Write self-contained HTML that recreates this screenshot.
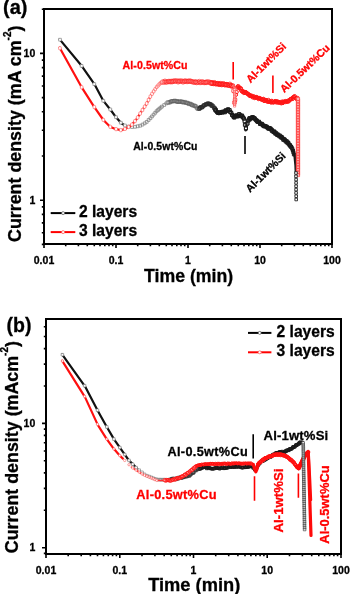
<!DOCTYPE html>
<html><head><meta charset="utf-8"><style>
html,body{margin:0;padding:0;background:#fff;}
body{width:350px;height:594px;position:relative;overflow:hidden;font-family:"Liberation Sans",sans-serif;}
</style></head><body>
<svg width="350" height="594" viewBox="0 0 350 594" style="position:absolute;left:0;top:0;filter:blur(0.35px)">
<style>text{stroke:#000;stroke-width:0.3px}text[fill="#ff0000"]{stroke:#ff0000}</style>
<g font-family="Liberation Sans, sans-serif" font-weight="bold">
<rect x="44" y="9" width="288" height="235" fill="none" stroke="#000" stroke-width="2"/>
<path d="M44 244v4M65.7 244v2.2M78.4 244v2.2M87.3 244v2.2M94.3 244v2.2M100 244v2.2M104.8 244v2.2M109 244v2.2M112.7 244v2.2M116 244v4M137.7 244v2.2M150.4 244v2.2M159.3 244v2.2M166.3 244v2.2M172 244v2.2M176.8 244v2.2M181 244v2.2M184.7 244v2.2M188 244v4M209.7 244v2.2M222.4 244v2.2M231.3 244v2.2M238.3 244v2.2M244 244v2.2M248.8 244v2.2M253 244v2.2M256.7 244v2.2M260 244v4M281.7 244v2.2M294.4 244v2.2M303.3 244v2.2M310.3 244v2.2M316 244v2.2M320.8 244v2.2M325 244v2.2M328.7 244v2.2M332 244v4M44 244.4h-2.2M44 232.8h-2.2M44 222.9h-2.2M44 214.4h-2.2M44 206.9h-2.2M44 200.2h-4M44 156h-2.2M44 130.2h-2.2M44 111.8h-2.2M44 97.6h-2.2M44 86h-2.2M44 76.1h-2.2M44 67.6h-2.2M44 60.1h-2.2M44 53.4h-4M44 9.2h-2.2" stroke="#000" stroke-width="1.6" fill="none"/>
<text x="44" y="263.8" text-anchor="middle" font-size="10.5">0.01</text>
<text x="116" y="263.8" text-anchor="middle" font-size="10.5">0.1</text>
<text x="188" y="263.8" text-anchor="middle" font-size="10.5">1</text>
<text x="260" y="263.8" text-anchor="middle" font-size="10.5">10</text>
<text x="332" y="263.8" text-anchor="middle" font-size="10.5">100</text>
<text x="35.3" y="56.9" text-anchor="end" font-size="10.5">10</text>
<text x="35.3" y="203.5" text-anchor="end" font-size="10.5">1</text>
<path d="M59.7 39.4 L82 66.3 L94.9 84.9 L103.4 100.9 L110.3 109.5 L116.1 117.3 L121.3 123.3 L125.6 125.9" fill="none" stroke="#111" stroke-width="2.2" stroke-linejoin="round" stroke-linecap="round" />
<path d="M125.6 125.9 L130.7 127.1 L135.9 126.7 L141 125.5 L146.2 122.4 L151.3 117.3 L156.5 111.3 L161.6 106.8 L167.2 102.8 L175.3 101 L185.4 102.5" fill="none" stroke="#999" stroke-width="1.2" stroke-linejoin="round" stroke-linecap="round" />
<path d="M58.6 38.3h2.8v2.8h-2.8zM80.2 64.5h2.8v2.8h-2.8zM92.9 82.7h2.8v2.8h-2.8zM101.9 99.4h2.8v2.8h-2.8zM108.9 108.1h2.8v2.8h-2.8zM114.6 115.8h2.8v2.8h-2.8zM119.4 121.3h2.8v2.8h-2.8zM123.6 124.1h2.8v2.8h-2.8z" fill="#fff" stroke="#777" stroke-width="0.6"/>
<path d="M127.3 125.2h2.8v2.8h-2.8zM130.6 125.6h2.8v2.8h-2.8zM133.6 125.4h2.8v2.8h-2.8zM136.3 124.9h2.8v2.8h-2.8zM138.8 124.3h2.8v2.8h-2.8zM141.1 123.2h2.8v2.8h-2.8zM143.3 121.9h2.8v2.8h-2.8zM145.3 120.5h2.8v2.8h-2.8zM147.2 118.6h2.8v2.8h-2.8zM149 116.8h2.8v2.8h-2.8zM150.6 115h2.8v2.8h-2.8zM152.2 113.2h2.8v2.8h-2.8zM153.8 111.4h2.8v2.8h-2.8zM155.2 109.8h2.8v2.8h-2.8zM156.6 108.6h2.8v2.8h-2.8zM157.9 107.4h2.8v2.8h-2.8zM159.2 106.3h2.8v2.8h-2.8zM160.5 105.2h2.8v2.8h-2.8zM162.8 103.6h2.8v2.8h-2.8zM164.9 102h2.8v2.8h-2.8z" fill="#fff" stroke="#7a7a7a" stroke-width="0.7"/>
<path d="M166.2 100.8h3.2v3.2h-3.2zM167.1 101h3.2v3.2h-3.2zM168.3 100.6h3.2v3.2h-3.2zM169.4 99.9h3.2v3.2h-3.2zM170.4 99.7h3.2v3.2h-3.2zM171.2 99.5h3.2v3.2h-3.2zM172.6 99.6h3.2v3.2h-3.2zM173.2 99.1h3.2v3.2h-3.2zM174.7 99.6h3.2v3.2h-3.2zM175.3 99.7h3.2v3.2h-3.2zM176.1 100.3h3.2v3.2h-3.2zM177.3 100.3h3.2v3.2h-3.2zM178.2 99.7h3.2v3.2h-3.2zM179.6 100.1h3.2v3.2h-3.2zM180.4 100.1h3.2v3.2h-3.2zM181.3 100.7h3.2v3.2h-3.2zM182.1 100.7h3.2v3.2h-3.2zM183.2 100.4h3.2v3.2h-3.2zM184.4 101.3h3.2v3.2h-3.2zM185.5 101.2h3.2v3.2h-3.2zM186.3 101.7h3.2v3.2h-3.2zM187.5 102.4h3.2v3.2h-3.2zM188.4 102.1h3.2v3.2h-3.2zM189.6 102.7h3.2v3.2h-3.2zM190.3 103.3h3.2v3.2h-3.2zM191.2 103.8h3.2v3.2h-3.2zM192.6 104h3.2v3.2h-3.2zM193.4 104.4h3.2v3.2h-3.2zM194.5 105h3.2v3.2h-3.2zM195.4 106.4h3.2v3.2h-3.2zM196.3 107.3h3.2v3.2h-3.2zM197.5 107h3.2v3.2h-3.2zM198.4 106.4h3.2v3.2h-3.2z" fill="#fff" stroke="#5a5a5a" stroke-width="0.6"/>
<path d="M202.1 106.9 L208.6 103.5 L212.4 105.6" fill="none" stroke="#333" stroke-width="2.0" stroke-linejoin="round" stroke-linecap="round" />
<path d="M197.8 107.3h3v3h-3zM198.4 106.5h3v3h-3zM199.2 105.6h3v3h-3zM200.2 105.9h3v3h-3zM200.6 105.7h3v3h-3zM201.6 104.8h3v3h-3zM202.3 103.9h3v3h-3zM202.9 103.7h3v3h-3zM204.1 103.1h3v3h-3zM204.5 102.8h3v3h-3zM205.7 102.7h3v3h-3zM206.3 101.9h3v3h-3zM207.3 102.1h3v3h-3zM208.1 102.8h3v3h-3zM208.6 102.6h3v3h-3zM209.7 103.2h3v3h-3zM210.1 104.3h3v3h-3zM210.9 104h3v3h-3zM211.9 105.1h3v3h-3zM212.6 106.6h3v3h-3zM213.5 106.9h3v3h-3zM214.3 108.4h3v3h-3z" fill="#fff" stroke="#2a2a2a" stroke-width="0.9"/>
<path d="M216.3 110.7 L218.8 113.8 L224 112 L229.1 109.4 L231.7 114.6 L234.3 117.1 L239.4 114.6 L243.3 117.1 L245 124 L245.8 130 L247 124 L248.4 119.7 L252.3 117.1 L260 123.6 L268 127.5 L276 133.5 L285 140.5 L290 145.5 L293 150" fill="none" stroke="#222" stroke-width="3.0" stroke-linejoin="round" stroke-linecap="round" />
<path d="M213.6 108.3h3v3h-3zM214.2 108.3h3v3h-3zM214.4 109.4h3v3h-3zM215.5 110.5h3v3h-3zM216.1 111.2h3v3h-3zM216.4 111.1h3v3h-3zM217.2 111.3h3v3h-3zM217.4 111.4h3v3h-3zM218.1 111.4h3v3h-3zM218.6 111.5h3v3h-3zM219.3 110.6h3v3h-3zM220 110.6h3v3h-3zM220.9 110.3h3v3h-3zM221.1 111.1h3v3h-3zM221.8 110.3h3v3h-3zM222.3 110.3h3v3h-3zM223.4 110.8h3v3h-3zM223.7 109.8h3v3h-3zM224.1 108.8h3v3h-3zM224.8 109h3v3h-3zM225.3 109.6h3v3h-3zM226.4 107.8h3v3h-3zM226.5 108.4h3v3h-3zM227 108.1h3v3h-3zM228.2 108.6h3v3h-3zM228.6 110.4h3v3h-3zM229 110.5h3v3h-3zM229.9 111.5h3v3h-3zM230.5 113.3h3v3h-3zM230.7 113.5h3v3h-3zM231.8 114.9h3v3h-3zM232.3 115.6h3v3h-3zM232.8 116.1h3v3h-3zM233.3 114.9h3v3h-3zM233.6 114.8h3v3h-3zM234.4 113.9h3v3h-3zM235.2 114h3v3h-3zM235.7 115h3v3h-3zM236.6 114.7h3v3h-3zM236.8 114.4h3v3h-3zM237.3 112.8h3v3h-3zM237.9 112.7h3v3h-3zM238.9 113.8h3v3h-3zM239.3 114.6h3v3h-3zM240.1 114.7h3v3h-3zM240.6 114h3v3h-3zM241.3 115.9h3v3h-3zM241.7 116h3v3h-3zM242.5 117.1h3v3h-3zM243.1 119.8h3v3h-3zM243.4 123.3h3v3h-3zM244.4 126.8h3v3h-3zM244.5 126.9h3v3h-3zM245.1 122.8h3v3h-3zM246.1 122h3v3h-3zM246.7 118.8h3v3h-3zM247.2 118.9h3v3h-3zM247.7 117.4h3v3h-3zM248 116.6h3v3h-3zM249 117.7h3v3h-3zM249.8 116.5h3v3h-3zM250.3 115.9h3v3h-3zM250.5 116.3h3v3h-3zM251.2 115.6h3v3h-3zM252 116.1h3v3h-3zM252.5 116.6h3v3h-3zM253.3 116.9h3v3h-3zM253.7 117.8h3v3h-3zM254.5 118.7h3v3h-3zM255.2 118.9h3v3h-3zM255.5 119.6h3v3h-3zM255.8 120.1h3v3h-3zM256.5 120.5h3v3h-3zM257.5 120.2h3v3h-3zM257.9 121h3v3h-3zM258.5 122.5h3v3h-3zM259.1 122.1h3v3h-3zM259.9 122.8h3v3h-3zM260.3 122.3h3v3h-3zM260.8 122.8h3v3h-3zM261.5 124.1h3v3h-3zM262.3 124h3v3h-3zM262.7 124.9h3v3h-3zM263.3 124.6h3v3h-3zM264 124.8h3v3h-3zM264.5 124.9h3v3h-3zM265.4 125.3h3v3h-3zM265.9 126h3v3h-3zM266.2 126.7h3v3h-3zM267.2 126.4h3v3h-3zM267.3 127.4h3v3h-3zM268.1 126.5h3v3h-3zM268.5 126.9h3v3h-3zM269.4 127.3h3v3h-3zM270.1 129.1h3v3h-3zM270.6 128.4h3v3h-3zM270.9 129.7h3v3h-3zM272 130.6h3v3h-3zM272.6 129.8h3v3h-3zM272.9 130.6h3v3h-3zM273.7 132.1h3v3h-3zM274.1 131.1h3v3h-3zM274.6 132.2h3v3h-3zM275.2 132.1h3v3h-3zM275.6 133.5h3v3h-3zM276.5 133.7h3v3h-3zM277 133.2h3v3h-3zM277.7 134.7h3v3h-3zM278.6 134.2h3v3h-3zM279.2 135.9h3v3h-3zM279.4 135.2h3v3h-3zM280.3 135.5h3v3h-3zM280.5 136.4h3v3h-3zM281.5 137.1h3v3h-3zM281.8 138.3h3v3h-3zM282.8 137.6h3v3h-3zM283.2 138.8h3v3h-3zM283.4 138.5h3v3h-3zM284.3 140.1h3v3h-3zM285.2 139.6h3v3h-3zM285.7 141.2h3v3h-3zM286.3 140.9h3v3h-3zM286.9 141.4h3v3h-3zM287.2 142.7h3v3h-3zM288.2 143.5h3v3h-3zM288.3 143.6h3v3h-3zM288.9 144.9h3v3h-3zM289.5 145.1h3v3h-3zM290.1 145.9h3v3h-3zM290.8 147.3h3v3h-3zM291.4 149h3v3h-3zM291.9 150.8h3v3h-3zM292.4 152.9h3v3h-3z" fill="#fff" stroke="#1a1a1a" stroke-width="1.0"/>
<path d="M293 150 L294.8 157 L295.6 165 L295.9 172" fill="none" stroke="#1a1a1a" stroke-width="2.6" stroke-linejoin="round" stroke-linecap="round" />
<path d="M59.7 47.7 L81.1 86.3 L94 106.6 L103.4 120 L110.1 126.7 L115.3 129 L121.3 130.2 L126.4 128.4 L131.6 125 L136.7 119 L141 112.2 L146.2 104.4 L150.9 95.5 L156.3 87.5 L160.4 83 L165 81.6" fill="none" stroke="#ff1010" stroke-width="2.2" stroke-linejoin="round" stroke-linecap="round" />
<path d="M58.6 48.2a1.4 1.4 0 1 0 2.7 0a1.4 1.4 0 1 0 -2.7 0M80.3 87.2a1.4 1.4 0 1 0 2.7 0a1.4 1.4 0 1 0 -2.7 0M93 107.1a1.4 1.4 0 1 0 2.7 0a1.4 1.4 0 1 0 -2.7 0M102 119.9a1.4 1.4 0 1 0 2.7 0a1.4 1.4 0 1 0 -2.7 0M108.9 126.8a1.4 1.4 0 1 0 2.7 0a1.4 1.4 0 1 0 -2.7 0M114.7 129.1a1.4 1.4 0 1 0 2.7 0a1.4 1.4 0 1 0 -2.7 0M119.5 130.1a1.4 1.4 0 1 0 2.7 0a1.4 1.4 0 1 0 -2.7 0M123.6 128.9a1.4 1.4 0 1 0 2.7 0a1.4 1.4 0 1 0 -2.7 0M127.3 126.9a1.4 1.4 0 1 0 2.7 0a1.4 1.4 0 1 0 -2.7 0M130.6 124.6a1.4 1.4 0 1 0 2.7 0a1.4 1.4 0 1 0 -2.7 0M133.6 121.1a1.4 1.4 0 1 0 2.7 0a1.4 1.4 0 1 0 -2.7 0M136.3 117.5a1.4 1.4 0 1 0 2.7 0a1.4 1.4 0 1 0 -2.7 0M138.8 113.5a1.4 1.4 0 1 0 2.7 0a1.4 1.4 0 1 0 -2.7 0M141.1 110a1.4 1.4 0 1 0 2.7 0a1.4 1.4 0 1 0 -2.7 0M143.3 106.7a1.4 1.4 0 1 0 2.7 0a1.4 1.4 0 1 0 -2.7 0M145.3 103.5a1.4 1.4 0 1 0 2.7 0a1.4 1.4 0 1 0 -2.7 0M147.2 99.9a1.4 1.4 0 1 0 2.7 0a1.4 1.4 0 1 0 -2.7 0M149 96.5a1.4 1.4 0 1 0 2.7 0a1.4 1.4 0 1 0 -2.7 0M150.7 93.8a1.4 1.4 0 1 0 2.7 0a1.4 1.4 0 1 0 -2.7 0M152.3 91.4a1.4 1.4 0 1 0 2.7 0a1.4 1.4 0 1 0 -2.7 0M153.8 89.2a1.4 1.4 0 1 0 2.7 0a1.4 1.4 0 1 0 -2.7 0M155.3 87.1a1.4 1.4 0 1 0 2.7 0a1.4 1.4 0 1 0 -2.7 0M156.7 85.6a1.4 1.4 0 1 0 2.7 0a1.4 1.4 0 1 0 -2.7 0M158 84.2a1.4 1.4 0 1 0 2.7 0a1.4 1.4 0 1 0 -2.7 0M159.3 82.9a1.4 1.4 0 1 0 2.7 0a1.4 1.4 0 1 0 -2.7 0M160.5 82.6a1.4 1.4 0 1 0 2.7 0a1.4 1.4 0 1 0 -2.7 0M162.8 81.9a1.4 1.4 0 1 0 2.7 0a1.4 1.4 0 1 0 -2.7 0" fill="#fff" stroke="#ff5a5a" stroke-width="0.6"/>
<path d="M161 81.9a1.8 1.8 0 1 0 3.5 0a1.8 1.8 0 1 0 -3.5 0M162.3 82.2a1.8 1.8 0 1 0 3.5 0a1.8 1.8 0 1 0 -3.5 0M163.2 81.2a1.8 1.8 0 1 0 3.5 0a1.8 1.8 0 1 0 -3.5 0M164 82.1a1.8 1.8 0 1 0 3.5 0a1.8 1.8 0 1 0 -3.5 0M165.2 82a1.8 1.8 0 1 0 3.5 0a1.8 1.8 0 1 0 -3.5 0M166.5 81.6a1.8 1.8 0 1 0 3.5 0a1.8 1.8 0 1 0 -3.5 0M167.3 81.4a1.8 1.8 0 1 0 3.5 0a1.8 1.8 0 1 0 -3.5 0M168.5 81.8a1.8 1.8 0 1 0 3.5 0a1.8 1.8 0 1 0 -3.5 0M169.4 81.3a1.8 1.8 0 1 0 3.5 0a1.8 1.8 0 1 0 -3.5 0M170.3 81.8a1.8 1.8 0 1 0 3.5 0a1.8 1.8 0 1 0 -3.5 0M171.2 81.4a1.8 1.8 0 1 0 3.5 0a1.8 1.8 0 1 0 -3.5 0M172 81a1.8 1.8 0 1 0 3.5 0a1.8 1.8 0 1 0 -3.5 0M173.4 81a1.8 1.8 0 1 0 3.5 0a1.8 1.8 0 1 0 -3.5 0M174 81.2a1.8 1.8 0 1 0 3.5 0a1.8 1.8 0 1 0 -3.5 0M175.5 80.9a1.8 1.8 0 1 0 3.5 0a1.8 1.8 0 1 0 -3.5 0M176.4 81.9a1.8 1.8 0 1 0 3.5 0a1.8 1.8 0 1 0 -3.5 0M177.1 81.2a1.8 1.8 0 1 0 3.5 0a1.8 1.8 0 1 0 -3.5 0M178.2 81.2a1.8 1.8 0 1 0 3.5 0a1.8 1.8 0 1 0 -3.5 0M179.2 81a1.8 1.8 0 1 0 3.5 0a1.8 1.8 0 1 0 -3.5 0M180.5 81.2a1.8 1.8 0 1 0 3.5 0a1.8 1.8 0 1 0 -3.5 0M181.3 82a1.8 1.8 0 1 0 3.5 0a1.8 1.8 0 1 0 -3.5 0M182.5 81.2a1.8 1.8 0 1 0 3.5 0a1.8 1.8 0 1 0 -3.5 0M183.2 81.3a1.8 1.8 0 1 0 3.5 0a1.8 1.8 0 1 0 -3.5 0M184.2 81a1.8 1.8 0 1 0 3.5 0a1.8 1.8 0 1 0 -3.5 0M185.3 81.6a1.8 1.8 0 1 0 3.5 0a1.8 1.8 0 1 0 -3.5 0M186.3 81.3a1.8 1.8 0 1 0 3.5 0a1.8 1.8 0 1 0 -3.5 0M187.1 81.1a1.8 1.8 0 1 0 3.5 0a1.8 1.8 0 1 0 -3.5 0M188.2 81.2a1.8 1.8 0 1 0 3.5 0a1.8 1.8 0 1 0 -3.5 0M189 81.2a1.8 1.8 0 1 0 3.5 0a1.8 1.8 0 1 0 -3.5 0M190.1 81.6a1.8 1.8 0 1 0 3.5 0a1.8 1.8 0 1 0 -3.5 0M191.3 82a1.8 1.8 0 1 0 3.5 0a1.8 1.8 0 1 0 -3.5 0M192.3 82.2a1.8 1.8 0 1 0 3.5 0a1.8 1.8 0 1 0 -3.5 0M193.5 82.2a1.8 1.8 0 1 0 3.5 0a1.8 1.8 0 1 0 -3.5 0M194.1 81.8a1.8 1.8 0 1 0 3.5 0a1.8 1.8 0 1 0 -3.5 0M195 82.6a1.8 1.8 0 1 0 3.5 0a1.8 1.8 0 1 0 -3.5 0M196.3 82.3a1.8 1.8 0 1 0 3.5 0a1.8 1.8 0 1 0 -3.5 0M197.5 81.5a1.8 1.8 0 1 0 3.5 0a1.8 1.8 0 1 0 -3.5 0M198.3 82.6a1.8 1.8 0 1 0 3.5 0a1.8 1.8 0 1 0 -3.5 0M199.4 82.4a1.8 1.8 0 1 0 3.5 0a1.8 1.8 0 1 0 -3.5 0M200.3 81.8a1.8 1.8 0 1 0 3.5 0a1.8 1.8 0 1 0 -3.5 0M201.5 82.2a1.8 1.8 0 1 0 3.5 0a1.8 1.8 0 1 0 -3.5 0M202.4 82.6a1.8 1.8 0 1 0 3.5 0a1.8 1.8 0 1 0 -3.5 0M203.5 82.4a1.8 1.8 0 1 0 3.5 0a1.8 1.8 0 1 0 -3.5 0M204.4 82.5a1.8 1.8 0 1 0 3.5 0a1.8 1.8 0 1 0 -3.5 0M205 82a1.8 1.8 0 1 0 3.5 0a1.8 1.8 0 1 0 -3.5 0M206.2 82a1.8 1.8 0 1 0 3.5 0a1.8 1.8 0 1 0 -3.5 0M207.5 82.1a1.8 1.8 0 1 0 3.5 0a1.8 1.8 0 1 0 -3.5 0M208.3 82.7a1.8 1.8 0 1 0 3.5 0a1.8 1.8 0 1 0 -3.5 0M209.4 83a1.8 1.8 0 1 0 3.5 0a1.8 1.8 0 1 0 -3.5 0M210 82.9a1.8 1.8 0 1 0 3.5 0a1.8 1.8 0 1 0 -3.5 0" fill="#fff" stroke="#ff2020" stroke-width="0.6"/>
<path d="M209.4 83.2a1.8 1.8 0 1 0 3.5 0a1.8 1.8 0 1 0 -3.5 0M210.2 82.9a1.8 1.8 0 1 0 3.5 0a1.8 1.8 0 1 0 -3.5 0M210.8 83.3a1.8 1.8 0 1 0 3.5 0a1.8 1.8 0 1 0 -3.5 0M211.8 83.5a1.8 1.8 0 1 0 3.5 0a1.8 1.8 0 1 0 -3.5 0M212.7 82.7a1.8 1.8 0 1 0 3.5 0a1.8 1.8 0 1 0 -3.5 0M213.6 83.7a1.8 1.8 0 1 0 3.5 0a1.8 1.8 0 1 0 -3.5 0M214.9 83.9a1.8 1.8 0 1 0 3.5 0a1.8 1.8 0 1 0 -3.5 0M215.5 83.6a1.8 1.8 0 1 0 3.5 0a1.8 1.8 0 1 0 -3.5 0M216.6 83.7a1.8 1.8 0 1 0 3.5 0a1.8 1.8 0 1 0 -3.5 0M217.4 84.3a1.8 1.8 0 1 0 3.5 0a1.8 1.8 0 1 0 -3.5 0M218 84.2a1.8 1.8 0 1 0 3.5 0a1.8 1.8 0 1 0 -3.5 0M219 83.6a1.8 1.8 0 1 0 3.5 0a1.8 1.8 0 1 0 -3.5 0M219.9 84.6a1.8 1.8 0 1 0 3.5 0a1.8 1.8 0 1 0 -3.5 0M220.7 84.4a1.8 1.8 0 1 0 3.5 0a1.8 1.8 0 1 0 -3.5 0M221.7 83.7a1.8 1.8 0 1 0 3.5 0a1.8 1.8 0 1 0 -3.5 0M222.9 84.7a1.8 1.8 0 1 0 3.5 0a1.8 1.8 0 1 0 -3.5 0M223.5 84.7a1.8 1.8 0 1 0 3.5 0a1.8 1.8 0 1 0 -3.5 0M224.5 84.6a1.8 1.8 0 1 0 3.5 0a1.8 1.8 0 1 0 -3.5 0M225.2 84.6a1.8 1.8 0 1 0 3.5 0a1.8 1.8 0 1 0 -3.5 0M226.2 85.2a1.8 1.8 0 1 0 3.5 0a1.8 1.8 0 1 0 -3.5 0M227.5 85.4a1.8 1.8 0 1 0 3.5 0a1.8 1.8 0 1 0 -3.5 0M228.1 84.3a1.8 1.8 0 1 0 3.5 0a1.8 1.8 0 1 0 -3.5 0M229.3 85.8a1.8 1.8 0 1 0 3.5 0a1.8 1.8 0 1 0 -3.5 0M229.8 85.8a1.8 1.8 0 1 0 3.5 0a1.8 1.8 0 1 0 -3.5 0M231.1 85.9a1.8 1.8 0 1 0 3.5 0a1.8 1.8 0 1 0 -3.5 0M231.8 90.8a1.8 1.8 0 1 0 3.5 0a1.8 1.8 0 1 0 -3.5 0M232.7 102.6a1.8 1.8 0 1 0 3.5 0a1.8 1.8 0 1 0 -3.5 0M233.3 99.8a1.8 1.8 0 1 0 3.5 0a1.8 1.8 0 1 0 -3.5 0" fill="#fff" stroke="#ff1515" stroke-width="0.8"/>
<path d="M237.6 86.5 L243.3 91.7 L252.4 96.3 L261.6 99.3 L270.7 101.5 L279.9 102.5 L286.7 101.5 L292.4 98.6 L294.7 97 L297 98.3" fill="none" stroke="#ff1010" stroke-width="4.0" stroke-linejoin="round" stroke-linecap="round" />
<path d="M234.4 94.8a1.6 1.6 0 1 0 3.2 0a1.6 1.6 0 1 0 -3.2 0M235.1 92.1a1.6 1.6 0 1 0 3.2 0a1.6 1.6 0 1 0 -3.2 0M235.8 87.8a1.6 1.6 0 1 0 3.2 0a1.6 1.6 0 1 0 -3.2 0M235.9 86.7a1.6 1.6 0 1 0 3.2 0a1.6 1.6 0 1 0 -3.2 0M236.8 86.1a1.6 1.6 0 1 0 3.2 0a1.6 1.6 0 1 0 -3.2 0M237.3 87.7a1.6 1.6 0 1 0 3.2 0a1.6 1.6 0 1 0 -3.2 0M237.9 87.5a1.6 1.6 0 1 0 3.2 0a1.6 1.6 0 1 0 -3.2 0M238.8 88.5a1.6 1.6 0 1 0 3.2 0a1.6 1.6 0 1 0 -3.2 0M239.4 88.3a1.6 1.6 0 1 0 3.2 0a1.6 1.6 0 1 0 -3.2 0M239.6 90.7a1.6 1.6 0 1 0 3.2 0a1.6 1.6 0 1 0 -3.2 0M240.5 91.5a1.6 1.6 0 1 0 3.2 0a1.6 1.6 0 1 0 -3.2 0M240.9 91.9a1.6 1.6 0 1 0 3.2 0a1.6 1.6 0 1 0 -3.2 0M241.5 91.3a1.6 1.6 0 1 0 3.2 0a1.6 1.6 0 1 0 -3.2 0M242.3 93.1a1.6 1.6 0 1 0 3.2 0a1.6 1.6 0 1 0 -3.2 0M242.8 91.9a1.6 1.6 0 1 0 3.2 0a1.6 1.6 0 1 0 -3.2 0M243.1 92.1a1.6 1.6 0 1 0 3.2 0a1.6 1.6 0 1 0 -3.2 0M244.2 92a1.6 1.6 0 1 0 3.2 0a1.6 1.6 0 1 0 -3.2 0M244.9 92.7a1.6 1.6 0 1 0 3.2 0a1.6 1.6 0 1 0 -3.2 0M245.1 92.9a1.6 1.6 0 1 0 3.2 0a1.6 1.6 0 1 0 -3.2 0M245.6 93.8a1.6 1.6 0 1 0 3.2 0a1.6 1.6 0 1 0 -3.2 0M246.7 93.8a1.6 1.6 0 1 0 3.2 0a1.6 1.6 0 1 0 -3.2 0M247.2 95.2a1.6 1.6 0 1 0 3.2 0a1.6 1.6 0 1 0 -3.2 0M247.8 95a1.6 1.6 0 1 0 3.2 0a1.6 1.6 0 1 0 -3.2 0M248.2 96a1.6 1.6 0 1 0 3.2 0a1.6 1.6 0 1 0 -3.2 0M248.5 95.8a1.6 1.6 0 1 0 3.2 0a1.6 1.6 0 1 0 -3.2 0M249.4 96.1a1.6 1.6 0 1 0 3.2 0a1.6 1.6 0 1 0 -3.2 0M250.1 96.5a1.6 1.6 0 1 0 3.2 0a1.6 1.6 0 1 0 -3.2 0M250.3 95.7a1.6 1.6 0 1 0 3.2 0a1.6 1.6 0 1 0 -3.2 0M251 97.4a1.6 1.6 0 1 0 3.2 0a1.6 1.6 0 1 0 -3.2 0M251.7 96.6a1.6 1.6 0 1 0 3.2 0a1.6 1.6 0 1 0 -3.2 0M252.5 96.4a1.6 1.6 0 1 0 3.2 0a1.6 1.6 0 1 0 -3.2 0M252.9 98.1a1.6 1.6 0 1 0 3.2 0a1.6 1.6 0 1 0 -3.2 0M253.5 97.6a1.6 1.6 0 1 0 3.2 0a1.6 1.6 0 1 0 -3.2 0M254.1 97.5a1.6 1.6 0 1 0 3.2 0a1.6 1.6 0 1 0 -3.2 0M254.6 96.9a1.6 1.6 0 1 0 3.2 0a1.6 1.6 0 1 0 -3.2 0M255.6 97.2a1.6 1.6 0 1 0 3.2 0a1.6 1.6 0 1 0 -3.2 0M255.8 98a1.6 1.6 0 1 0 3.2 0a1.6 1.6 0 1 0 -3.2 0M256.9 99.1a1.6 1.6 0 1 0 3.2 0a1.6 1.6 0 1 0 -3.2 0M257 98.3a1.6 1.6 0 1 0 3.2 0a1.6 1.6 0 1 0 -3.2 0M257.6 97.9a1.6 1.6 0 1 0 3.2 0a1.6 1.6 0 1 0 -3.2 0M258.2 98.4a1.6 1.6 0 1 0 3.2 0a1.6 1.6 0 1 0 -3.2 0M258.9 98.4a1.6 1.6 0 1 0 3.2 0a1.6 1.6 0 1 0 -3.2 0M259.8 99.3a1.6 1.6 0 1 0 3.2 0a1.6 1.6 0 1 0 -3.2 0M260.1 99.9a1.6 1.6 0 1 0 3.2 0a1.6 1.6 0 1 0 -3.2 0M260.8 99.3a1.6 1.6 0 1 0 3.2 0a1.6 1.6 0 1 0 -3.2 0M261.3 99.4a1.6 1.6 0 1 0 3.2 0a1.6 1.6 0 1 0 -3.2 0M261.9 98.8a1.6 1.6 0 1 0 3.2 0a1.6 1.6 0 1 0 -3.2 0M262.4 101a1.6 1.6 0 1 0 3.2 0a1.6 1.6 0 1 0 -3.2 0M263.3 100.1a1.6 1.6 0 1 0 3.2 0a1.6 1.6 0 1 0 -3.2 0M263.6 101a1.6 1.6 0 1 0 3.2 0a1.6 1.6 0 1 0 -3.2 0M264.2 99.9a1.6 1.6 0 1 0 3.2 0a1.6 1.6 0 1 0 -3.2 0M265 100.3a1.6 1.6 0 1 0 3.2 0a1.6 1.6 0 1 0 -3.2 0M265.8 101.7a1.6 1.6 0 1 0 3.2 0a1.6 1.6 0 1 0 -3.2 0M265.9 101.6a1.6 1.6 0 1 0 3.2 0a1.6 1.6 0 1 0 -3.2 0M266.9 99.9a1.6 1.6 0 1 0 3.2 0a1.6 1.6 0 1 0 -3.2 0M267.4 102a1.6 1.6 0 1 0 3.2 0a1.6 1.6 0 1 0 -3.2 0M267.7 101.4a1.6 1.6 0 1 0 3.2 0a1.6 1.6 0 1 0 -3.2 0M268.9 101.1a1.6 1.6 0 1 0 3.2 0a1.6 1.6 0 1 0 -3.2 0M269.4 102.2a1.6 1.6 0 1 0 3.2 0a1.6 1.6 0 1 0 -3.2 0M269.6 102.6a1.6 1.6 0 1 0 3.2 0a1.6 1.6 0 1 0 -3.2 0M270.2 100.8a1.6 1.6 0 1 0 3.2 0a1.6 1.6 0 1 0 -3.2 0M271.1 101.8a1.6 1.6 0 1 0 3.2 0a1.6 1.6 0 1 0 -3.2 0M271.7 102.7a1.6 1.6 0 1 0 3.2 0a1.6 1.6 0 1 0 -3.2 0M272.4 102.2a1.6 1.6 0 1 0 3.2 0a1.6 1.6 0 1 0 -3.2 0M272.8 101.8a1.6 1.6 0 1 0 3.2 0a1.6 1.6 0 1 0 -3.2 0M273.6 101a1.6 1.6 0 1 0 3.2 0a1.6 1.6 0 1 0 -3.2 0M274.3 101.4a1.6 1.6 0 1 0 3.2 0a1.6 1.6 0 1 0 -3.2 0M274.5 102.4a1.6 1.6 0 1 0 3.2 0a1.6 1.6 0 1 0 -3.2 0M275.1 101.3a1.6 1.6 0 1 0 3.2 0a1.6 1.6 0 1 0 -3.2 0M275.9 102.5a1.6 1.6 0 1 0 3.2 0a1.6 1.6 0 1 0 -3.2 0M276.1 101.4a1.6 1.6 0 1 0 3.2 0a1.6 1.6 0 1 0 -3.2 0M277 102.4a1.6 1.6 0 1 0 3.2 0a1.6 1.6 0 1 0 -3.2 0M277.4 102.2a1.6 1.6 0 1 0 3.2 0a1.6 1.6 0 1 0 -3.2 0M277.9 102.7a1.6 1.6 0 1 0 3.2 0a1.6 1.6 0 1 0 -3.2 0M278.8 102a1.6 1.6 0 1 0 3.2 0a1.6 1.6 0 1 0 -3.2 0M279.5 103.3a1.6 1.6 0 1 0 3.2 0a1.6 1.6 0 1 0 -3.2 0M280 103.1a1.6 1.6 0 1 0 3.2 0a1.6 1.6 0 1 0 -3.2 0M280.4 101.6a1.6 1.6 0 1 0 3.2 0a1.6 1.6 0 1 0 -3.2 0M281.3 103.1a1.6 1.6 0 1 0 3.2 0a1.6 1.6 0 1 0 -3.2 0M281.5 101.6a1.6 1.6 0 1 0 3.2 0a1.6 1.6 0 1 0 -3.2 0M282.5 101.9a1.6 1.6 0 1 0 3.2 0a1.6 1.6 0 1 0 -3.2 0M282.9 101.6a1.6 1.6 0 1 0 3.2 0a1.6 1.6 0 1 0 -3.2 0M283.9 102.1a1.6 1.6 0 1 0 3.2 0a1.6 1.6 0 1 0 -3.2 0M283.9 101a1.6 1.6 0 1 0 3.2 0a1.6 1.6 0 1 0 -3.2 0M284.8 101.2a1.6 1.6 0 1 0 3.2 0a1.6 1.6 0 1 0 -3.2 0M285.2 101.7a1.6 1.6 0 1 0 3.2 0a1.6 1.6 0 1 0 -3.2 0M286.1 101.7a1.6 1.6 0 1 0 3.2 0a1.6 1.6 0 1 0 -3.2 0M286.4 100.7a1.6 1.6 0 1 0 3.2 0a1.6 1.6 0 1 0 -3.2 0M287.1 101.5a1.6 1.6 0 1 0 3.2 0a1.6 1.6 0 1 0 -3.2 0M287.6 100.8a1.6 1.6 0 1 0 3.2 0a1.6 1.6 0 1 0 -3.2 0M288.6 99.2a1.6 1.6 0 1 0 3.2 0a1.6 1.6 0 1 0 -3.2 0M289.3 99.1a1.6 1.6 0 1 0 3.2 0a1.6 1.6 0 1 0 -3.2 0M289.4 99.2a1.6 1.6 0 1 0 3.2 0a1.6 1.6 0 1 0 -3.2 0M290.2 98.3a1.6 1.6 0 1 0 3.2 0a1.6 1.6 0 1 0 -3.2 0M291.1 99a1.6 1.6 0 1 0 3.2 0a1.6 1.6 0 1 0 -3.2 0M291.3 97.4a1.6 1.6 0 1 0 3.2 0a1.6 1.6 0 1 0 -3.2 0M292.3 97.1a1.6 1.6 0 1 0 3.2 0a1.6 1.6 0 1 0 -3.2 0M292.3 96.6a1.6 1.6 0 1 0 3.2 0a1.6 1.6 0 1 0 -3.2 0M293.1 96.1a1.6 1.6 0 1 0 3.2 0a1.6 1.6 0 1 0 -3.2 0M294 98.3a1.6 1.6 0 1 0 3.2 0a1.6 1.6 0 1 0 -3.2 0M294.7 98.2a1.6 1.6 0 1 0 3.2 0a1.6 1.6 0 1 0 -3.2 0M294.9 99a1.6 1.6 0 1 0 3.2 0a1.6 1.6 0 1 0 -3.2 0M295.9 97.9a1.6 1.6 0 1 0 3.2 0a1.6 1.6 0 1 0 -3.2 0" fill="#fff" stroke="#ff1515" stroke-width="1.0"/>
<path d="M296.4 97.4h3.2v3.2h-3.2zM296.4 99h3.2v3.2h-3.2zM296.4 100.6h3.2v3.2h-3.2zM296.4 102.3h3.2v3.2h-3.2zM296.4 103.9h3.2v3.2h-3.2zM296.4 105.5h3.2v3.2h-3.2zM296.4 107.1h3.2v3.2h-3.2zM296.4 108.7h3.2v3.2h-3.2zM296.4 110.3h3.2v3.2h-3.2zM296.4 112h3.2v3.2h-3.2zM296.4 113.6h3.2v3.2h-3.2zM296.4 115.2h3.2v3.2h-3.2zM296.4 116.8h3.2v3.2h-3.2zM296.4 118.4h3.2v3.2h-3.2zM296.4 120h3.2v3.2h-3.2zM296.4 121.7h3.2v3.2h-3.2zM296.4 123.3h3.2v3.2h-3.2zM296.4 124.9h3.2v3.2h-3.2zM296.4 126.5h3.2v3.2h-3.2zM296.4 128.1h3.2v3.2h-3.2zM296.4 129.7h3.2v3.2h-3.2zM296.4 131.4h3.2v3.2h-3.2zM296.4 133h3.2v3.2h-3.2zM296.4 134.6h3.2v3.2h-3.2zM296.4 136.2h3.2v3.2h-3.2zM296.4 137.8h3.2v3.2h-3.2zM296.4 139.4h3.2v3.2h-3.2zM296.4 141.1h3.2v3.2h-3.2zM296.4 142.7h3.2v3.2h-3.2zM296.4 144.3h3.2v3.2h-3.2zM296.4 145.9h3.2v3.2h-3.2zM296.4 147.5h3.2v3.2h-3.2zM296.4 149.1h3.2v3.2h-3.2zM296.4 150.8h3.2v3.2h-3.2zM296.4 152.4h3.2v3.2h-3.2zM296.4 154h3.2v3.2h-3.2zM296.4 155.6h3.2v3.2h-3.2zM296.4 157.2h3.2v3.2h-3.2zM296.4 158.8h3.2v3.2h-3.2zM296.4 160.5h3.2v3.2h-3.2zM296.4 162.1h3.2v3.2h-3.2zM296.4 163.7h3.2v3.2h-3.2zM296.4 165.3h3.2v3.2h-3.2zM296.4 166.9h3.2v3.2h-3.2zM296.4 168.5h3.2v3.2h-3.2zM296.4 170.2h3.2v3.2h-3.2zM296.4 171.8h3.2v3.2h-3.2zM296.4 173.4h3.2v3.2h-3.2z" fill="#fff" stroke="#ff4545" stroke-width="0.8"/>
<path d="M294.7 171.7h2.6v2.6h-2.6zM294.7 175h2.6v2.6h-2.6zM294.8 178.3h2.6v2.6h-2.6zM294.8 181.6h2.6v2.6h-2.6zM294.8 184.9h2.6v2.6h-2.6zM294.8 188.3h2.6v2.6h-2.6zM294.8 191.6h2.6v2.6h-2.6zM294.9 194.9h2.6v2.6h-2.6zM294.9 198.2h2.6v2.6h-2.6z" fill="#fff" stroke="#222" stroke-width="0.9"/>
<path d="M233.5 88.9h2.2v2.2h-2.2zM233.5 90.5h2.2v2.2h-2.2zM233.5 92.1h2.2v2.2h-2.2zM233.5 93.7h2.2v2.2h-2.2zM233.5 95.3h2.2v2.2h-2.2zM233.5 96.9h2.2v2.2h-2.2zM233.5 98.5h2.2v2.2h-2.2zM233.5 100.1h2.2v2.2h-2.2zM233.5 101.7h2.2v2.2h-2.2zM233.5 103.3h2.2v2.2h-2.2zM233.5 104.9h2.2v2.2h-2.2z" fill="#fff" stroke="#ff5050" stroke-width="0.6"/>
<path d="M233.2 61.9V79.6M272.9 75.5V92.9" stroke="#ff0000" stroke-width="1.6"/>
<path d="M245 136V154" stroke="#000" stroke-width="1.6"/>
<text x="122.5" y="68.7" font-size="10.6" textLength="65.1" fill="#ff0000">Al-0.5wt%Cu</text>
<text x="133.2" y="149.7" font-size="10.4" textLength="64.2" fill="#000">Al-0.5wt%Cu</text>
<text transform="translate(250.5 83.5) rotate(-45)" font-size="10.6" fill="#ff0000">Al-1wt%Si</text>
<text transform="translate(284.3 93.3) rotate(-44)" font-size="10.6" fill="#ff0000">Al-0.5wt%Cu</text>
<text transform="translate(250 193) rotate(-45)" font-size="10.6" fill="#000">Al-1wt%Si</text>
<path d="M50.7 213.1H75.3" stroke="#000" stroke-width="2"/>
<path d="M50.7 232.1H75.3" stroke="#ff0000" stroke-width="2"/>
<circle cx="63.1" cy="213.1" r="1.5" fill="#fff" stroke="#555" stroke-width="0.7"/>
<circle cx="63.1" cy="232.1" r="1.5" fill="#fff" stroke="#ff5050" stroke-width="0.7"/>
<text x="79" y="216.9" font-size="15.6">2 layers</text>
<text x="79" y="235.9" font-size="15.6">3 layers</text>
<text x="3.0" y="13.9" font-size="20">(a)</text>
<text x="188.6" y="281.7" text-anchor="middle" font-size="17.7">Time (min)</text>
<text transform="translate(21.3 242.0) rotate(-90)" font-size="17.85">Current density (mA cm<tspan font-size="10" dy="-10">-2</tspan><tspan dy="10">)</tspan></text>
<rect x="46" y="319" width="295" height="235" fill="none" stroke="#000" stroke-width="2"/>
<path d="M46 554v4M68.2 554v2.2M81.2 554v2.2M90.4 554v2.2M97.5 554v2.2M103.4 554v2.2M108.3 554v2.2M112.6 554v2.2M116.4 554v2.2M119.8 554v4M142 554v2.2M154.9 554v2.2M164.2 554v2.2M171.3 554v2.2M177.1 554v2.2M182.1 554v2.2M186.4 554v2.2M190.1 554v2.2M193.5 554v4M215.7 554v2.2M228.7 554v2.2M237.9 554v2.2M245 554v2.2M250.9 554v2.2M255.8 554v2.2M260.1 554v2.2M263.9 554v2.2M267.2 554v4M289.5 554v2.2M302.4 554v2.2M311.7 554v2.2M318.8 554v2.2M324.6 554v2.2M329.6 554v2.2M333.9 554v2.2M337.6 554v2.2M341 554v4M46 553.4h-2.2M46 547.7h-4M46 510.3h-2.2M46 488.4h-2.2M46 472.9h-2.2M46 460.8h-2.2M46 451h-2.2M46 442.7h-2.2M46 435.4h-2.2M46 429.1h-2.2M46 423.4h-4M46 386h-2.2M46 364.1h-2.2M46 348.6h-2.2M46 336.5h-2.2M46 326.7h-2.2" stroke="#000" stroke-width="1.6" fill="none"/>
<text x="46" y="573.6" text-anchor="middle" font-size="10.5">0.01</text>
<text x="119.8" y="573.6" text-anchor="middle" font-size="10.5">0.1</text>
<text x="193.5" y="573.6" text-anchor="middle" font-size="10.5">1</text>
<text x="267.2" y="573.6" text-anchor="middle" font-size="10.5">10</text>
<text x="341" y="573.6" text-anchor="middle" font-size="10.5">100</text>
<text x="35.3" y="426.9" text-anchor="end" font-size="10.5">10</text>
<text x="35.3" y="550.7" text-anchor="end" font-size="10.5">1</text>
<path d="M62.1 354.3 L85 386.3 L97.9 410.9 L106.4 426.3 L114.1 439.4 L119.9 447.7 L125 454.9 L128.6 460 L137.1 468.6" fill="none" stroke="#111" stroke-width="2.2" stroke-linejoin="round" stroke-linecap="round" />
<path d="M137.1 468.6 L145.7 475.2 L157.1 479.6 L168.6 479.8" fill="none" stroke="#555" stroke-width="1.4" stroke-linejoin="round" stroke-linecap="round" />
<path d="M61.1 353.4h2.6v2.6h-2.6zM83.3 384.4h2.6v2.6h-2.6zM96.2 408.9h2.6v2.6h-2.6zM105.5 425.6h2.6v2.6h-2.6zM112.6 437.8h2.6v2.6h-2.6zM118.5 446.2h2.6v2.6h-2.6zM123.4 453.2h2.6v2.6h-2.6zM127.7 459.1h2.6v2.6h-2.6zM131.4 462.9h2.6v2.6h-2.6zM134.8 466.3h2.6v2.6h-2.6zM137.9 468.9h2.6v2.6h-2.6zM140.7 471h2.6v2.6h-2.6zM143.2 473h2.6v2.6h-2.6zM145.6 474.4h2.6v2.6h-2.6zM147.8 475.2h2.6v2.6h-2.6zM149.9 476h2.6v2.6h-2.6zM151.8 476.8h2.6v2.6h-2.6zM153.6 477.5h2.6v2.6h-2.6zM155.4 478.1h2.6v2.6h-2.6zM157 478.3h2.6v2.6h-2.6zM158.6 478.3h2.6v2.6h-2.6zM160.1 478.4h2.6v2.6h-2.6zM161.5 478.4h2.6v2.6h-2.6zM162.9 478.4h2.6v2.6h-2.6zM164.2 478.4h2.6v2.6h-2.6zM165.4 478.5h2.6v2.6h-2.6zM166.6 478.5h2.6v2.6h-2.6z" fill="#fff" stroke="#777" stroke-width="0.6"/>
<path d="M168.2 478.3h3v3h-3zM169.4 478.1h3v3h-3zM170.4 477.6h3v3h-3zM171.2 477.3h3v3h-3zM172.4 477.2h3v3h-3zM173.3 477.7h3v3h-3zM174.3 477.6h3v3h-3zM175.7 476.8h3v3h-3zM176.5 477.1h3v3h-3zM177.5 476.2h3v3h-3zM178.8 476.4h3v3h-3zM179.4 475.9h3v3h-3zM180.2 476.3h3v3h-3zM181.7 475.5h3v3h-3zM182.2 475.6h3v3h-3zM183.2 474.5h3v3h-3zM184.4 475.1h3v3h-3zM185.7 474.6h3v3h-3zM186.4 473.9h3v3h-3zM187.6 474.3h3v3h-3zM188.6 473.3h3v3h-3zM189.4 472.4h3v3h-3zM190.7 471.3h3v3h-3zM191.6 471.3h3v3h-3zM192.2 470.5h3v3h-3zM193.5 468.9h3v3h-3zM194.8 468.7h3v3h-3zM195.4 467.4h3v3h-3zM196.5 467.2h3v3h-3zM197.3 467.4h3v3h-3zM198.6 467.1h3v3h-3z" fill="#fff" stroke="#333" stroke-width="0.8"/>
<path d="M203 467.6 L212.9 468.4 L224.3 467.6 L235 466.8 L245 467.5 L251.5 466.5 L253.5 468 L255.5 470 L257.5 466 L261.1 461.7" fill="none" stroke="#333" stroke-width="2.0" stroke-linejoin="round" stroke-linecap="round" />
<path d="M199 467.6h2.4v2.4h-2.4zM199.5 467.1h2.4v2.4h-2.4zM200.3 466.4h2.4v2.4h-2.4zM200.9 467h2.4v2.4h-2.4zM202.2 465.9h2.4v2.4h-2.4zM202.5 466.1h2.4v2.4h-2.4zM203.6 465.8h2.4v2.4h-2.4zM204.7 466.3h2.4v2.4h-2.4zM205.5 467.3h2.4v2.4h-2.4zM205.8 466.4h2.4v2.4h-2.4zM206.8 466.2h2.4v2.4h-2.4zM207.6 467.2h2.4v2.4h-2.4zM208.4 466.5h2.4v2.4h-2.4zM209.3 467.2h2.4v2.4h-2.4zM210.2 467.5h2.4v2.4h-2.4zM210.6 467.4h2.4v2.4h-2.4zM211.5 467.7h2.4v2.4h-2.4zM212.3 467.3h2.4v2.4h-2.4zM213 467.5h2.4v2.4h-2.4zM213.8 466.6h2.4v2.4h-2.4zM215 466.4h2.4v2.4h-2.4zM215.5 467.1h2.4v2.4h-2.4zM216.7 466.7h2.4v2.4h-2.4zM217 466.8h2.4v2.4h-2.4zM218.1 467.3h2.4v2.4h-2.4zM218.6 467.5h2.4v2.4h-2.4zM219.8 466.6h2.4v2.4h-2.4zM220.6 467.1h2.4v2.4h-2.4zM221.1 465.8h2.4v2.4h-2.4zM221.8 465.9h2.4v2.4h-2.4zM222.8 467.2h2.4v2.4h-2.4zM223.5 467.1h2.4v2.4h-2.4zM224.4 466.9h2.4v2.4h-2.4zM225.4 465.9h2.4v2.4h-2.4zM225.8 466.9h2.4v2.4h-2.4zM226.9 466.3h2.4v2.4h-2.4zM227.5 465.6h2.4v2.4h-2.4zM228.2 465.4h2.4v2.4h-2.4zM229.3 465.6h2.4v2.4h-2.4zM229.8 466.1h2.4v2.4h-2.4zM230.7 465h2.4v2.4h-2.4zM231.4 466h2.4v2.4h-2.4zM232.2 465.4h2.4v2.4h-2.4zM233.2 466.1h2.4v2.4h-2.4zM233.8 464.9h2.4v2.4h-2.4zM234.8 465.5h2.4v2.4h-2.4zM235.4 465.9h2.4v2.4h-2.4zM236.5 465.2h2.4v2.4h-2.4zM237.1 465.7h2.4v2.4h-2.4zM238.3 465.6h2.4v2.4h-2.4zM238.8 465.6h2.4v2.4h-2.4zM239.5 465.8h2.4v2.4h-2.4zM240.7 466.6h2.4v2.4h-2.4zM241 465.9h2.4v2.4h-2.4zM241.8 466.5h2.4v2.4h-2.4zM243 465.4h2.4v2.4h-2.4zM243.8 466.2h2.4v2.4h-2.4zM244.6 466.1h2.4v2.4h-2.4zM245 466h2.4v2.4h-2.4zM246 465.2h2.4v2.4h-2.4zM247 466.1h2.4v2.4h-2.4zM247.7 465.1h2.4v2.4h-2.4zM248.4 465.4h2.4v2.4h-2.4zM249.1 464.9h2.4v2.4h-2.4zM250.3 465.4h2.4v2.4h-2.4zM250.8 465h2.4v2.4h-2.4zM251.9 466.8h2.4v2.4h-2.4zM252.2 466.4h2.4v2.4h-2.4zM253.5 468.4h2.4v2.4h-2.4zM253.7 468.5h2.4v2.4h-2.4zM254.7 468.5h2.4v2.4h-2.4zM255.7 466.8h2.4v2.4h-2.4zM256.2 465.2h2.4v2.4h-2.4zM257 464.2h2.4v2.4h-2.4zM258.2 462.6h2.4v2.4h-2.4zM258.6 462.3h2.4v2.4h-2.4zM259.5 460.4h2.4v2.4h-2.4zM260.3 460.2h2.4v2.4h-2.4z" fill="#fff" stroke="#1a1a1a" stroke-width="0.9"/>
<path d="M267.2 458.3 L272.3 455.7 L277.4 452.3 L284.3 452 L289.5 449.7 L294.6 446.3 L299.7 442.9 L302.5 442.3" fill="none" stroke="#1a1a1a" stroke-width="2.8" stroke-linejoin="round" stroke-linecap="round" />
<path d="M260.5 459.4h2.6v2.6h-2.6zM261.6 459.8h2.6v2.6h-2.6zM262.1 458.6h2.6v2.6h-2.6zM262.5 459h2.6v2.6h-2.6zM263.3 458.7h2.6v2.6h-2.6zM264.2 458.1h2.6v2.6h-2.6zM264.8 457.7h2.6v2.6h-2.6zM265.6 457.1h2.6v2.6h-2.6zM266.4 456.7h2.6v2.6h-2.6zM267 456.4h2.6v2.6h-2.6zM267.8 455.5h2.6v2.6h-2.6zM268.2 455.7h2.6v2.6h-2.6zM269.3 455.7h2.6v2.6h-2.6zM269.6 455h2.6v2.6h-2.6zM270.3 454.6h2.6v2.6h-2.6zM271.2 453.8h2.6v2.6h-2.6zM271.9 453.3h2.6v2.6h-2.6zM272.3 453.3h2.6v2.6h-2.6zM273 453h2.6v2.6h-2.6zM274.2 452.7h2.6v2.6h-2.6zM274.4 451.9h2.6v2.6h-2.6zM275.3 451.5h2.6v2.6h-2.6zM275.9 451.5h2.6v2.6h-2.6zM277.1 451.4h2.6v2.6h-2.6zM277.7 451.2h2.6v2.6h-2.6zM278.5 450.5h2.6v2.6h-2.6zM279.2 450.9h2.6v2.6h-2.6zM279.4 451.3h2.6v2.6h-2.6zM280.6 451.2h2.6v2.6h-2.6zM280.9 450.3h2.6v2.6h-2.6zM281.5 451.1h2.6v2.6h-2.6zM282.3 451.2h2.6v2.6h-2.6zM282.9 451h2.6v2.6h-2.6zM284.1 450.3h2.6v2.6h-2.6zM284.4 449.7h2.6v2.6h-2.6zM285.1 449.7h2.6v2.6h-2.6zM285.7 448.9h2.6v2.6h-2.6zM286.9 448.7h2.6v2.6h-2.6zM287.5 449h2.6v2.6h-2.6zM288.2 448.1h2.6v2.6h-2.6zM288.7 447.6h2.6v2.6h-2.6zM289.3 447.8h2.6v2.6h-2.6zM290.1 447.6h2.6v2.6h-2.6zM291 446.8h2.6v2.6h-2.6zM291.8 445.7h2.6v2.6h-2.6zM292.1 445.9h2.6v2.6h-2.6zM292.8 445.6h2.6v2.6h-2.6zM293.6 445.4h2.6v2.6h-2.6zM294.5 444.2h2.6v2.6h-2.6zM294.8 443.8h2.6v2.6h-2.6zM295.4 443.7h2.6v2.6h-2.6zM296.3 443.3h2.6v2.6h-2.6zM297.4 442.6h2.6v2.6h-2.6zM297.9 442.1h2.6v2.6h-2.6zM298.2 441.4h2.6v2.6h-2.6zM299 440.9h2.6v2.6h-2.6zM299.9 441.4h2.6v2.6h-2.6zM300.8 441.1h2.6v2.6h-2.6z" fill="#fff" stroke="#1a1a1a" stroke-width="0.9"/>
<path d="M62.1 360.6 L85 397.1 L97.9 425.1 L106.4 438.6 L113.6 448.6 L119.9 455.7 L122.9 458.6" fill="none" stroke="#ff1010" stroke-width="2.2" stroke-linejoin="round" stroke-linecap="round" />
<path d="M131.4 467.1 L142.9 474.5 L157.1 480.5 L171.4 480.5" fill="none" stroke="#ff3030" stroke-width="1.6" stroke-linejoin="round" stroke-linecap="round" />
<path d="M61.2 361a1.2 1.2 0 1 0 2.4 0a1.2 1.2 0 1 0 -2.4 0M83.4 396.4a1.2 1.2 0 1 0 2.4 0a1.2 1.2 0 1 0 -2.4 0M96.3 424.3a1.2 1.2 0 1 0 2.4 0a1.2 1.2 0 1 0 -2.4 0M105.6 439.1a1.2 1.2 0 1 0 2.4 0a1.2 1.2 0 1 0 -2.4 0M112.7 448.9a1.2 1.2 0 1 0 2.4 0a1.2 1.2 0 1 0 -2.4 0M118.5 455.5a1.2 1.2 0 1 0 2.4 0a1.2 1.2 0 1 0 -2.4 0M123.5 460.4a1.2 1.2 0 1 0 2.4 0a1.2 1.2 0 1 0 -2.4 0M127.8 464.7a1.2 1.2 0 1 0 2.4 0a1.2 1.2 0 1 0 -2.4 0M131.5 468a1.2 1.2 0 1 0 2.4 0a1.2 1.2 0 1 0 -2.4 0M134.9 470.1a1.2 1.2 0 1 0 2.4 0a1.2 1.2 0 1 0 -2.4 0M138 472.1a1.2 1.2 0 1 0 2.4 0a1.2 1.2 0 1 0 -2.4 0M140.8 473.9a1.2 1.2 0 1 0 2.4 0a1.2 1.2 0 1 0 -2.4 0M143.3 475.2a1.2 1.2 0 1 0 2.4 0a1.2 1.2 0 1 0 -2.4 0M145.7 476.2a1.2 1.2 0 1 0 2.4 0a1.2 1.2 0 1 0 -2.4 0M147.9 477.1a1.2 1.2 0 1 0 2.4 0a1.2 1.2 0 1 0 -2.4 0M150 478a1.2 1.2 0 1 0 2.4 0a1.2 1.2 0 1 0 -2.4 0M151.9 478.8a1.2 1.2 0 1 0 2.4 0a1.2 1.2 0 1 0 -2.4 0M153.7 479.6a1.2 1.2 0 1 0 2.4 0a1.2 1.2 0 1 0 -2.4 0M155.5 480.3a1.2 1.2 0 1 0 2.4 0a1.2 1.2 0 1 0 -2.4 0" fill="#fff" stroke="#ff5a5a" stroke-width="0.6"/>
<path d="M163.1 480.1a1.7 1.7 0 1 0 3.4 0a1.7 1.7 0 1 0 -3.4 0M164 480.7a1.7 1.7 0 1 0 3.4 0a1.7 1.7 0 1 0 -3.4 0M165.2 480a1.7 1.7 0 1 0 3.4 0a1.7 1.7 0 1 0 -3.4 0M166.2 480.1a1.7 1.7 0 1 0 3.4 0a1.7 1.7 0 1 0 -3.4 0M167.4 480.2a1.7 1.7 0 1 0 3.4 0a1.7 1.7 0 1 0 -3.4 0M168.1 480.6a1.7 1.7 0 1 0 3.4 0a1.7 1.7 0 1 0 -3.4 0M169.3 480.6a1.7 1.7 0 1 0 3.4 0a1.7 1.7 0 1 0 -3.4 0M170.6 479.9a1.7 1.7 0 1 0 3.4 0a1.7 1.7 0 1 0 -3.4 0M171.1 479.7a1.7 1.7 0 1 0 3.4 0a1.7 1.7 0 1 0 -3.4 0M172.4 479.2a1.7 1.7 0 1 0 3.4 0a1.7 1.7 0 1 0 -3.4 0M173.5 479.6a1.7 1.7 0 1 0 3.4 0a1.7 1.7 0 1 0 -3.4 0M174.2 478.8a1.7 1.7 0 1 0 3.4 0a1.7 1.7 0 1 0 -3.4 0M175.4 478.1a1.7 1.7 0 1 0 3.4 0a1.7 1.7 0 1 0 -3.4 0M176.2 478.3a1.7 1.7 0 1 0 3.4 0a1.7 1.7 0 1 0 -3.4 0M177.3 478a1.7 1.7 0 1 0 3.4 0a1.7 1.7 0 1 0 -3.4 0M178.4 477.9a1.7 1.7 0 1 0 3.4 0a1.7 1.7 0 1 0 -3.4 0M179.5 476.9a1.7 1.7 0 1 0 3.4 0a1.7 1.7 0 1 0 -3.4 0M180.3 476.4a1.7 1.7 0 1 0 3.4 0a1.7 1.7 0 1 0 -3.4 0M181.1 476.3a1.7 1.7 0 1 0 3.4 0a1.7 1.7 0 1 0 -3.4 0M182.5 475.3a1.7 1.7 0 1 0 3.4 0a1.7 1.7 0 1 0 -3.4 0M183.3 474.5a1.7 1.7 0 1 0 3.4 0a1.7 1.7 0 1 0 -3.4 0M184.1 474.8a1.7 1.7 0 1 0 3.4 0a1.7 1.7 0 1 0 -3.4 0M185.4 473.3a1.7 1.7 0 1 0 3.4 0a1.7 1.7 0 1 0 -3.4 0M186.4 472.9a1.7 1.7 0 1 0 3.4 0a1.7 1.7 0 1 0 -3.4 0M187.1 472.5a1.7 1.7 0 1 0 3.4 0a1.7 1.7 0 1 0 -3.4 0M188.2 471.3a1.7 1.7 0 1 0 3.4 0a1.7 1.7 0 1 0 -3.4 0M189.5 470.2a1.7 1.7 0 1 0 3.4 0a1.7 1.7 0 1 0 -3.4 0M190.4 470a1.7 1.7 0 1 0 3.4 0a1.7 1.7 0 1 0 -3.4 0M191.5 468.4a1.7 1.7 0 1 0 3.4 0a1.7 1.7 0 1 0 -3.4 0M192.3 468.3a1.7 1.7 0 1 0 3.4 0a1.7 1.7 0 1 0 -3.4 0M193.3 467.4a1.7 1.7 0 1 0 3.4 0a1.7 1.7 0 1 0 -3.4 0" fill="#fff" stroke="#ff1515" stroke-width="0.8"/>
<path d="M196.9 465.5 L203.7 464.2 L217.4 464 L235.7 463.5 L245 463.5 L251.5 463.5" fill="none" stroke="#ff0a0a" stroke-width="2.8" stroke-linejoin="round" stroke-linecap="round" />
<path d="M193.5 466.9a1.3 1.3 0 1 0 2.6 0a1.3 1.3 0 1 0 -2.6 0M194.1 466.3a1.3 1.3 0 1 0 2.6 0a1.3 1.3 0 1 0 -2.6 0M195.2 465.8a1.3 1.3 0 1 0 2.6 0a1.3 1.3 0 1 0 -2.6 0M196 465.7a1.3 1.3 0 1 0 2.6 0a1.3 1.3 0 1 0 -2.6 0M196.4 465.5a1.3 1.3 0 1 0 2.6 0a1.3 1.3 0 1 0 -2.6 0M197.2 465.2a1.3 1.3 0 1 0 2.6 0a1.3 1.3 0 1 0 -2.6 0M197.9 465.3a1.3 1.3 0 1 0 2.6 0a1.3 1.3 0 1 0 -2.6 0M198.7 464.7a1.3 1.3 0 1 0 2.6 0a1.3 1.3 0 1 0 -2.6 0M199.1 465.3a1.3 1.3 0 1 0 2.6 0a1.3 1.3 0 1 0 -2.6 0M199.7 465a1.3 1.3 0 1 0 2.6 0a1.3 1.3 0 1 0 -2.6 0M200.5 464.3a1.3 1.3 0 1 0 2.6 0a1.3 1.3 0 1 0 -2.6 0M201.7 464.6a1.3 1.3 0 1 0 2.6 0a1.3 1.3 0 1 0 -2.6 0M202 464.5a1.3 1.3 0 1 0 2.6 0a1.3 1.3 0 1 0 -2.6 0M202.7 464.6a1.3 1.3 0 1 0 2.6 0a1.3 1.3 0 1 0 -2.6 0M203.7 463.9a1.3 1.3 0 1 0 2.6 0a1.3 1.3 0 1 0 -2.6 0M204.3 464.3a1.3 1.3 0 1 0 2.6 0a1.3 1.3 0 1 0 -2.6 0M205.2 464.3a1.3 1.3 0 1 0 2.6 0a1.3 1.3 0 1 0 -2.6 0M205.8 464.1a1.3 1.3 0 1 0 2.6 0a1.3 1.3 0 1 0 -2.6 0M206.5 464.3a1.3 1.3 0 1 0 2.6 0a1.3 1.3 0 1 0 -2.6 0M207.1 464.1a1.3 1.3 0 1 0 2.6 0a1.3 1.3 0 1 0 -2.6 0M207.6 464.2a1.3 1.3 0 1 0 2.6 0a1.3 1.3 0 1 0 -2.6 0M208.5 463.8a1.3 1.3 0 1 0 2.6 0a1.3 1.3 0 1 0 -2.6 0M209.3 463.7a1.3 1.3 0 1 0 2.6 0a1.3 1.3 0 1 0 -2.6 0M209.5 463.7a1.3 1.3 0 1 0 2.6 0a1.3 1.3 0 1 0 -2.6 0M210.8 463.7a1.3 1.3 0 1 0 2.6 0a1.3 1.3 0 1 0 -2.6 0M211 463.9a1.3 1.3 0 1 0 2.6 0a1.3 1.3 0 1 0 -2.6 0M211.6 463.6a1.3 1.3 0 1 0 2.6 0a1.3 1.3 0 1 0 -2.6 0M212.7 464.2a1.3 1.3 0 1 0 2.6 0a1.3 1.3 0 1 0 -2.6 0M213.4 464.2a1.3 1.3 0 1 0 2.6 0a1.3 1.3 0 1 0 -2.6 0M214.1 463.6a1.3 1.3 0 1 0 2.6 0a1.3 1.3 0 1 0 -2.6 0M214.9 463.9a1.3 1.3 0 1 0 2.6 0a1.3 1.3 0 1 0 -2.6 0M215.6 464.3a1.3 1.3 0 1 0 2.6 0a1.3 1.3 0 1 0 -2.6 0M216.3 463.6a1.3 1.3 0 1 0 2.6 0a1.3 1.3 0 1 0 -2.6 0M217.1 464.4a1.3 1.3 0 1 0 2.6 0a1.3 1.3 0 1 0 -2.6 0M217.3 463.6a1.3 1.3 0 1 0 2.6 0a1.3 1.3 0 1 0 -2.6 0M217.9 463.6a1.3 1.3 0 1 0 2.6 0a1.3 1.3 0 1 0 -2.6 0M219.1 464.3a1.3 1.3 0 1 0 2.6 0a1.3 1.3 0 1 0 -2.6 0M219.8 464a1.3 1.3 0 1 0 2.6 0a1.3 1.3 0 1 0 -2.6 0M220.2 464a1.3 1.3 0 1 0 2.6 0a1.3 1.3 0 1 0 -2.6 0M220.8 463.5a1.3 1.3 0 1 0 2.6 0a1.3 1.3 0 1 0 -2.6 0M221.5 464.1a1.3 1.3 0 1 0 2.6 0a1.3 1.3 0 1 0 -2.6 0M222.4 463.6a1.3 1.3 0 1 0 2.6 0a1.3 1.3 0 1 0 -2.6 0M223 463.3a1.3 1.3 0 1 0 2.6 0a1.3 1.3 0 1 0 -2.6 0M223.9 463.6a1.3 1.3 0 1 0 2.6 0a1.3 1.3 0 1 0 -2.6 0M224.4 463.6a1.3 1.3 0 1 0 2.6 0a1.3 1.3 0 1 0 -2.6 0M225.2 464.2a1.3 1.3 0 1 0 2.6 0a1.3 1.3 0 1 0 -2.6 0M226 464.1a1.3 1.3 0 1 0 2.6 0a1.3 1.3 0 1 0 -2.6 0M226.5 463.2a1.3 1.3 0 1 0 2.6 0a1.3 1.3 0 1 0 -2.6 0M227.5 463.6a1.3 1.3 0 1 0 2.6 0a1.3 1.3 0 1 0 -2.6 0M228.1 463.5a1.3 1.3 0 1 0 2.6 0a1.3 1.3 0 1 0 -2.6 0M228.5 463.7a1.3 1.3 0 1 0 2.6 0a1.3 1.3 0 1 0 -2.6 0M229.2 464a1.3 1.3 0 1 0 2.6 0a1.3 1.3 0 1 0 -2.6 0M229.9 463.9a1.3 1.3 0 1 0 2.6 0a1.3 1.3 0 1 0 -2.6 0M230.6 463.1a1.3 1.3 0 1 0 2.6 0a1.3 1.3 0 1 0 -2.6 0M231.8 463.8a1.3 1.3 0 1 0 2.6 0a1.3 1.3 0 1 0 -2.6 0M232.2 463.1a1.3 1.3 0 1 0 2.6 0a1.3 1.3 0 1 0 -2.6 0M233.1 463.5a1.3 1.3 0 1 0 2.6 0a1.3 1.3 0 1 0 -2.6 0M233.6 463.2a1.3 1.3 0 1 0 2.6 0a1.3 1.3 0 1 0 -2.6 0M234.5 463.3a1.3 1.3 0 1 0 2.6 0a1.3 1.3 0 1 0 -2.6 0M235.3 463.3a1.3 1.3 0 1 0 2.6 0a1.3 1.3 0 1 0 -2.6 0M235.5 463.3a1.3 1.3 0 1 0 2.6 0a1.3 1.3 0 1 0 -2.6 0M236.4 463.7a1.3 1.3 0 1 0 2.6 0a1.3 1.3 0 1 0 -2.6 0M237.2 463.1a1.3 1.3 0 1 0 2.6 0a1.3 1.3 0 1 0 -2.6 0M238 463.1a1.3 1.3 0 1 0 2.6 0a1.3 1.3 0 1 0 -2.6 0M238.7 463.7a1.3 1.3 0 1 0 2.6 0a1.3 1.3 0 1 0 -2.6 0M239.1 463.6a1.3 1.3 0 1 0 2.6 0a1.3 1.3 0 1 0 -2.6 0M239.8 463.4a1.3 1.3 0 1 0 2.6 0a1.3 1.3 0 1 0 -2.6 0M240.4 463.9a1.3 1.3 0 1 0 2.6 0a1.3 1.3 0 1 0 -2.6 0M241 463.9a1.3 1.3 0 1 0 2.6 0a1.3 1.3 0 1 0 -2.6 0M241.9 463.2a1.3 1.3 0 1 0 2.6 0a1.3 1.3 0 1 0 -2.6 0M242.7 463.9a1.3 1.3 0 1 0 2.6 0a1.3 1.3 0 1 0 -2.6 0M243.6 463.4a1.3 1.3 0 1 0 2.6 0a1.3 1.3 0 1 0 -2.6 0M244.1 463.2a1.3 1.3 0 1 0 2.6 0a1.3 1.3 0 1 0 -2.6 0M245 463.5a1.3 1.3 0 1 0 2.6 0a1.3 1.3 0 1 0 -2.6 0M245.6 463.8a1.3 1.3 0 1 0 2.6 0a1.3 1.3 0 1 0 -2.6 0M246.1 463.3a1.3 1.3 0 1 0 2.6 0a1.3 1.3 0 1 0 -2.6 0M247.1 463.2a1.3 1.3 0 1 0 2.6 0a1.3 1.3 0 1 0 -2.6 0M247.7 463.7a1.3 1.3 0 1 0 2.6 0a1.3 1.3 0 1 0 -2.6 0M248.3 463.2a1.3 1.3 0 1 0 2.6 0a1.3 1.3 0 1 0 -2.6 0M249 463.8a1.3 1.3 0 1 0 2.6 0a1.3 1.3 0 1 0 -2.6 0M249.7 463.1a1.3 1.3 0 1 0 2.6 0a1.3 1.3 0 1 0 -2.6 0M250.2 464a1.3 1.3 0 1 0 2.6 0a1.3 1.3 0 1 0 -2.6 0" fill="#fff" stroke="#ff1010" stroke-width="0.9"/>
<path d="M258.6 463.6 L263.7 459.2 L268.9 456.6 L275.7 454.5 L282.6 454.9 L287.7 457.4 L292.9 461.7 L297.2 466.9 L298.7 468.3 L301.5 462.6 L304.9 455.7" fill="none" stroke="#ff0a0a" stroke-width="3.8" stroke-linejoin="round" stroke-linecap="round" />
<path d="M256.4 464.1a1.5 1.5 0 1 0 3 0a1.5 1.5 0 1 0 -3 0M257.3 463.8a1.5 1.5 0 1 0 3 0a1.5 1.5 0 1 0 -3 0M257.5 462.7a1.5 1.5 0 1 0 3 0a1.5 1.5 0 1 0 -3 0M258.2 462.3a1.5 1.5 0 1 0 3 0a1.5 1.5 0 1 0 -3 0M258.7 462.1a1.5 1.5 0 1 0 3 0a1.5 1.5 0 1 0 -3 0M259.3 461.3a1.5 1.5 0 1 0 3 0a1.5 1.5 0 1 0 -3 0M260.2 461.6a1.5 1.5 0 1 0 3 0a1.5 1.5 0 1 0 -3 0M261 460a1.5 1.5 0 1 0 3 0a1.5 1.5 0 1 0 -3 0M261.2 459.5a1.5 1.5 0 1 0 3 0a1.5 1.5 0 1 0 -3 0M262.1 460a1.5 1.5 0 1 0 3 0a1.5 1.5 0 1 0 -3 0M262.5 459.3a1.5 1.5 0 1 0 3 0a1.5 1.5 0 1 0 -3 0M263.2 458.4a1.5 1.5 0 1 0 3 0a1.5 1.5 0 1 0 -3 0M263.5 458a1.5 1.5 0 1 0 3 0a1.5 1.5 0 1 0 -3 0M264 458a1.5 1.5 0 1 0 3 0a1.5 1.5 0 1 0 -3 0M265.1 457.7a1.5 1.5 0 1 0 3 0a1.5 1.5 0 1 0 -3 0M265.5 457.8a1.5 1.5 0 1 0 3 0a1.5 1.5 0 1 0 -3 0M266.1 457.4a1.5 1.5 0 1 0 3 0a1.5 1.5 0 1 0 -3 0M266.8 456.5a1.5 1.5 0 1 0 3 0a1.5 1.5 0 1 0 -3 0M267.4 456.5a1.5 1.5 0 1 0 3 0a1.5 1.5 0 1 0 -3 0M267.9 456.9a1.5 1.5 0 1 0 3 0a1.5 1.5 0 1 0 -3 0M268.6 456.3a1.5 1.5 0 1 0 3 0a1.5 1.5 0 1 0 -3 0M268.9 456a1.5 1.5 0 1 0 3 0a1.5 1.5 0 1 0 -3 0M269.9 456.2a1.5 1.5 0 1 0 3 0a1.5 1.5 0 1 0 -3 0M270.4 456a1.5 1.5 0 1 0 3 0a1.5 1.5 0 1 0 -3 0M271 455.9a1.5 1.5 0 1 0 3 0a1.5 1.5 0 1 0 -3 0M271.5 455.5a1.5 1.5 0 1 0 3 0a1.5 1.5 0 1 0 -3 0M272.2 454.9a1.5 1.5 0 1 0 3 0a1.5 1.5 0 1 0 -3 0M272.7 454.5a1.5 1.5 0 1 0 3 0a1.5 1.5 0 1 0 -3 0M273.4 455.1a1.5 1.5 0 1 0 3 0a1.5 1.5 0 1 0 -3 0M273.8 454.7a1.5 1.5 0 1 0 3 0a1.5 1.5 0 1 0 -3 0M274.5 454.4a1.5 1.5 0 1 0 3 0a1.5 1.5 0 1 0 -3 0M275 454.7a1.5 1.5 0 1 0 3 0a1.5 1.5 0 1 0 -3 0M276 454.8a1.5 1.5 0 1 0 3 0a1.5 1.5 0 1 0 -3 0M276.4 454.2a1.5 1.5 0 1 0 3 0a1.5 1.5 0 1 0 -3 0M276.8 455a1.5 1.5 0 1 0 3 0a1.5 1.5 0 1 0 -3 0M277.8 454.7a1.5 1.5 0 1 0 3 0a1.5 1.5 0 1 0 -3 0M278.1 454.2a1.5 1.5 0 1 0 3 0a1.5 1.5 0 1 0 -3 0M278.9 454.4a1.5 1.5 0 1 0 3 0a1.5 1.5 0 1 0 -3 0M279.3 455.3a1.5 1.5 0 1 0 3 0a1.5 1.5 0 1 0 -3 0M279.9 454.4a1.5 1.5 0 1 0 3 0a1.5 1.5 0 1 0 -3 0M280.6 454.9a1.5 1.5 0 1 0 3 0a1.5 1.5 0 1 0 -3 0M281.2 454.9a1.5 1.5 0 1 0 3 0a1.5 1.5 0 1 0 -3 0M281.7 455.6a1.5 1.5 0 1 0 3 0a1.5 1.5 0 1 0 -3 0M282.6 455.4a1.5 1.5 0 1 0 3 0a1.5 1.5 0 1 0 -3 0M283 455.4a1.5 1.5 0 1 0 3 0a1.5 1.5 0 1 0 -3 0M283.7 455.9a1.5 1.5 0 1 0 3 0a1.5 1.5 0 1 0 -3 0M284.4 455.9a1.5 1.5 0 1 0 3 0a1.5 1.5 0 1 0 -3 0M284.4 456.5a1.5 1.5 0 1 0 3 0a1.5 1.5 0 1 0 -3 0M285.2 456.7a1.5 1.5 0 1 0 3 0a1.5 1.5 0 1 0 -3 0M285.9 456.7a1.5 1.5 0 1 0 3 0a1.5 1.5 0 1 0 -3 0M286.6 457.6a1.5 1.5 0 1 0 3 0a1.5 1.5 0 1 0 -3 0M287 458a1.5 1.5 0 1 0 3 0a1.5 1.5 0 1 0 -3 0M287.8 458.3a1.5 1.5 0 1 0 3 0a1.5 1.5 0 1 0 -3 0M288.3 459.7a1.5 1.5 0 1 0 3 0a1.5 1.5 0 1 0 -3 0M289.1 459.3a1.5 1.5 0 1 0 3 0a1.5 1.5 0 1 0 -3 0M289.3 460a1.5 1.5 0 1 0 3 0a1.5 1.5 0 1 0 -3 0M290.3 460.2a1.5 1.5 0 1 0 3 0a1.5 1.5 0 1 0 -3 0M290.8 461.5a1.5 1.5 0 1 0 3 0a1.5 1.5 0 1 0 -3 0M291.3 461.6a1.5 1.5 0 1 0 3 0a1.5 1.5 0 1 0 -3 0M292.2 462a1.5 1.5 0 1 0 3 0a1.5 1.5 0 1 0 -3 0M292.6 462.9a1.5 1.5 0 1 0 3 0a1.5 1.5 0 1 0 -3 0M293.3 464.1a1.5 1.5 0 1 0 3 0a1.5 1.5 0 1 0 -3 0M293.6 464.4a1.5 1.5 0 1 0 3 0a1.5 1.5 0 1 0 -3 0M294.1 465.3a1.5 1.5 0 1 0 3 0a1.5 1.5 0 1 0 -3 0M294.8 466.3a1.5 1.5 0 1 0 3 0a1.5 1.5 0 1 0 -3 0M295.4 467.1a1.5 1.5 0 1 0 3 0a1.5 1.5 0 1 0 -3 0M296 467.1a1.5 1.5 0 1 0 3 0a1.5 1.5 0 1 0 -3 0M296.5 467.7a1.5 1.5 0 1 0 3 0a1.5 1.5 0 1 0 -3 0M297.4 467.5a1.5 1.5 0 1 0 3 0a1.5 1.5 0 1 0 -3 0M297.7 466.6a1.5 1.5 0 1 0 3 0a1.5 1.5 0 1 0 -3 0M298.5 465.4a1.5 1.5 0 1 0 3 0a1.5 1.5 0 1 0 -3 0M299.2 464.3a1.5 1.5 0 1 0 3 0a1.5 1.5 0 1 0 -3 0M299.6 463.4a1.5 1.5 0 1 0 3 0a1.5 1.5 0 1 0 -3 0M300.5 462.5a1.5 1.5 0 1 0 3 0a1.5 1.5 0 1 0 -3 0M301.1 460.2a1.5 1.5 0 1 0 3 0a1.5 1.5 0 1 0 -3 0M301.7 460a1.5 1.5 0 1 0 3 0a1.5 1.5 0 1 0 -3 0M302.3 457.9a1.5 1.5 0 1 0 3 0a1.5 1.5 0 1 0 -3 0M302.4 457.3a1.5 1.5 0 1 0 3 0a1.5 1.5 0 1 0 -3 0M303.6 455.3a1.5 1.5 0 1 0 3 0a1.5 1.5 0 1 0 -3 0M303.8 455.3a1.5 1.5 0 1 0 3 0a1.5 1.5 0 1 0 -3 0M304.3 454a1.5 1.5 0 1 0 3 0a1.5 1.5 0 1 0 -3 0M305.3 453.5a1.5 1.5 0 1 0 3 0a1.5 1.5 0 1 0 -3 0M305.5 452.9a1.5 1.5 0 1 0 3 0a1.5 1.5 0 1 0 -3 0M306.5 452.9a1.5 1.5 0 1 0 3 0a1.5 1.5 0 1 0 -3 0" fill="#fff" stroke="#ff1010" stroke-width="1.0"/>
<path d="M297.2 466.9 L298.7 468.3 L301.5 462.6 L304.9 455.7 L308.2 452" fill="none" stroke="#ff0a0a" stroke-width="4.2" stroke-linejoin="round" stroke-linecap="round" />
<path d="M253.3 464.5 L254.8 469.5 L255.8 471.8 L256.8 469.5 L258.2 464.5" fill="none" stroke="#ff0a0a" stroke-width="3.2" stroke-linejoin="round" stroke-linecap="round" />
<path d="M301.9 441.7h2.6v2.6h-2.6zM301.9 443.7h2.6v2.6h-2.6zM302 445.7h2.6v2.6h-2.6zM302 447.7h2.6v2.6h-2.6zM302 449.7h2.6v2.6h-2.6zM302.1 451.8h2.6v2.6h-2.6zM302.1 453.8h2.6v2.6h-2.6zM302.1 455.8h2.6v2.6h-2.6zM302.2 457.8h2.6v2.6h-2.6zM302.2 459.8h2.6v2.6h-2.6zM302.2 461.8h2.6v2.6h-2.6zM302.3 463.8h2.6v2.6h-2.6zM302.3 465.8h2.6v2.6h-2.6zM302.3 467.9h2.6v2.6h-2.6zM302.4 469.9h2.6v2.6h-2.6zM302.4 471.9h2.6v2.6h-2.6zM302.4 473.9h2.6v2.6h-2.6zM302.5 475.9h2.6v2.6h-2.6zM302.5 477.9h2.6v2.6h-2.6zM302.5 479.9h2.6v2.6h-2.6zM302.6 481.9h2.6v2.6h-2.6zM302.6 483.9h2.6v2.6h-2.6zM302.6 486h2.6v2.6h-2.6zM302.6 488h2.6v2.6h-2.6zM302.7 490h2.6v2.6h-2.6zM302.7 492h2.6v2.6h-2.6zM302.7 494h2.6v2.6h-2.6zM302.8 496h2.6v2.6h-2.6zM302.8 498h2.6v2.6h-2.6zM302.8 500h2.6v2.6h-2.6zM302.9 502h2.6v2.6h-2.6zM302.9 504.1h2.6v2.6h-2.6zM302.9 506.1h2.6v2.6h-2.6zM303 508.1h2.6v2.6h-2.6zM303 510.1h2.6v2.6h-2.6zM303 512.1h2.6v2.6h-2.6zM303.1 514.1h2.6v2.6h-2.6zM303.1 516.1h2.6v2.6h-2.6zM303.1 518.1h2.6v2.6h-2.6zM303.2 520.2h2.6v2.6h-2.6zM303.2 522.2h2.6v2.6h-2.6zM303.2 524.2h2.6v2.6h-2.6zM303.3 526.2h2.6v2.6h-2.6zM303.3 528.2h2.6v2.6h-2.6z" fill="#fff" stroke="#444" stroke-width="0.7"/>
<path d="M308.2 452 L308.8 470 L309.8 500 L311 535.5" fill="none" stroke="#ff0a0a" stroke-width="3.2" stroke-linejoin="round" stroke-linecap="round" />
<path d="M309 455 L310.3 480 L311.2 500" fill="none" stroke="#ff0a0a" stroke-width="2.0" stroke-linejoin="round" stroke-linecap="round" />
<path d="M253.2 434.2V458.5" stroke="#000" stroke-width="1.6"/>
<path d="M254.5 476.2V500.8M298.4 473.4V497.7" stroke="#ff0000" stroke-width="1.6"/>
<text x="167.5" y="456.4" font-size="12.7" textLength="80.2" fill="#000">Al-0.5wt%Cu</text>
<text x="136.3" y="498.9" font-size="12.8" textLength="80.3" fill="#ff0000">Al-0.5wt%Cu</text>
<text x="263.6" y="440.3" font-size="13.1" textLength="64.6" fill="#000">Al-1wt%Si</text>
<text transform="translate(282.6 532.4) rotate(-90)" font-size="13.2" fill="#ff0000">Al-1wt%Si</text>
<text transform="translate(328.6 543.7) rotate(-90)" font-size="12.95" fill="#ff0000">Al-0.5wt%Cu</text>
<path d="M248 332.9H271.4" stroke="#000" stroke-width="2"/>
<path d="M248 352.3H271.4" stroke="#ff0000" stroke-width="2"/>
<circle cx="259.7" cy="332.9" r="1.5" fill="#fff" stroke="#555" stroke-width="0.7"/>
<circle cx="259.7" cy="352.3" r="1.5" fill="#fff" stroke="#ff5050" stroke-width="0.7"/>
<text x="276.6" y="337.1" font-size="15.6">2 layers</text>
<text x="276.6" y="356.4" font-size="15.6">3 layers</text>
<text x="6.5" y="332.4" font-size="19.5">(b)</text>
<text x="194.2" y="590.5" text-anchor="middle" font-size="18.3">Time (min)</text>
<text transform="translate(18.4 553.2) rotate(-90)" font-size="17.85">Current density (mAcm<tspan font-size="10" dy="-10">-2</tspan><tspan dy="10">)</tspan></text>
</g></svg>
</body></html>
